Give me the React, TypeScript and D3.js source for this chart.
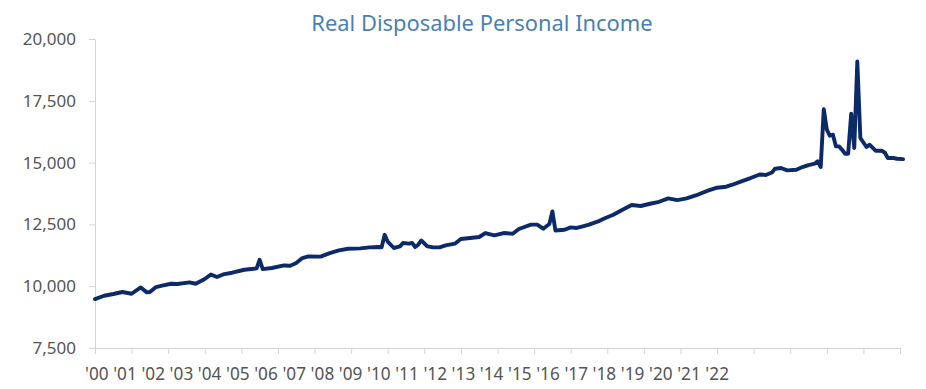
import React, { useEffect, useRef } from 'react';
import * as d3 from 'd3';

// Months (YYYY-MM) and Real Disposable Personal Income
const months = [
  '2000-01', '2000-04', '2000-07', '2000-10', '2001-01', '2001-04', '2001-06', '2001-07',
  '2001-09', '2001-11', '2002-02', '2002-04', '2002-08', '2002-10', '2003-01', '2003-03',
  '2003-05', '2003-07', '2003-10', '2004-02', '2004-06', '2004-07', '2004-08', '2004-11',
  '2005-03', '2005-05', '2005-07', '2005-09', '2005-11', '2006-03', '2006-06', '2006-09',
  '2006-12', '2007-04', '2007-07', '2007-10', '2007-11', '2007-12', '2008-01', '2008-03',
  '2008-05', '2008-06', '2008-08', '2008-09', '2008-10', '2008-11', '2008-12', '2009-02',
  '2009-04', '2009-06', '2009-08', '2009-11', '2010-01', '2010-04', '2010-07', '2010-09',
  '2010-12', '2011-03', '2011-06', '2011-08', '2011-12', '2012-02', '2012-04', '2012-06',
  '2012-07', '2012-08', '2012-11', '2013-01', '2013-03', '2013-05', '2013-07', '2013-10',
  '2013-12', '2014-03', '2014-06', '2014-09', '2014-12', '2015-03', '2015-06', '2015-09',
  '2015-12', '2016-03', '2016-06', '2016-10', '2017-01', '2017-04', '2017-06', '2017-09',
  '2017-12', '2018-03', '2018-05', '2018-07', '2018-08', '2018-10', '2018-12', '2019-03',
  '2019-05', '2019-07', '2019-09', '2019-10', '2019-11', '2019-12', '2020-01', '2020-02',
  '2020-03', '2020-04', '2020-05', '2020-06', '2020-07', '2020-08', '2020-09', '2020-10',
  '2020-11', '2020-12', '2021-02', '2021-03', '2021-05', '2021-07', '2021-08', '2021-09',
  '2021-11', '2021-12', '2022-02',
];

const income = [
  9480, 9615, 9685, 9765, 9695, 9950, 9750, 9765,
  9965, 10020, 10100, 10090, 10155, 10100, 10290, 10475,
  10370, 10475, 10545, 10665, 10720, 11070, 10690, 10735,
  10840, 10830, 10940, 11140, 11205, 11195, 11340, 11450,
  11515, 11530, 11570, 11585, 11575, 12080, 11800, 11545,
  11610, 11750, 11720, 11750, 11585, 11680, 11850, 11610,
  11570, 11570, 11650, 11720, 11910, 11950, 11990, 12150,
  12055, 12150, 12120, 12315, 12490, 12490, 12325, 12515,
  13025, 12255, 12285, 12380, 12355, 12420, 12490, 12620,
  12740, 12890, 13095, 13285, 13245, 13335, 13415, 13550,
  13485, 13550, 13670, 13865, 13985, 14025, 14105, 14240,
  14375, 14520, 14500, 14600, 14750, 14780, 14685, 14710,
  14820, 14900, 14955, 15050, 14820, 17165, 16330, 16085,
  16130, 15655, 15655, 15520, 15360, 15360, 16980, 15590,
  19090, 15995, 15630, 15725, 15480, 15480, 15410, 15185,
  15185, 15155, 15140,
];

const yTicks = [7500, 10000, 12500, 15000, 17500, 20000];

const yearLabels = [
  "'00", "'01", "'02", "'03", "'04", "'05", "'06", "'07", "'08", "'09", "'10", "'11",
  "'12", "'13", "'14", "'15", "'16", "'17", "'18", "'19", "'20", "'21", "'22",
];

const TITLE = 'Real Disposable Personal Income';

const monthIndex = (s: string) => {
  const [yy, mm] = s.split('-').map(Number);
  return (yy - 2000) * 12 + (mm - 1);
};

const App = () => {
  const svgRef = useRef<SVGSVGElement>(null);

  useEffect(() => {
    const width = 926;
    const height = 389;
    const margin = { top: 39, right: 26, bottom: 41, left: 95 };
    const font = '"Noto Sans", sans-serif';
    const labelColor = '#555555';
    const axisColor = '#d4d4d4';

    const svg = d3.select(svgRef.current);
    svg.selectAll('*').remove();
    svg.attr('width', width).attr('height', height);

    const data = months.map((m, i) => ({ m: monthIndex(m), v: income[i] }));

    // one tick per year, 22 intervals across the plot
    const x = d3.scaleLinear()
      .domain([0, 22 * 12])
      .range([margin.left, width - margin.right]);

    const y = d3.scaleLinear()
      .domain([d3.min(yTicks)!, d3.max(yTicks)!])
      .range([height - margin.bottom, margin.top]);

    // Título
    svg.append('text')
      .attr('x', 482)
      .attr('y', 31)
      .attr('text-anchor', 'middle')
      .style('font-family', font)
      .style('font-size', '21.9px')
      .style('fill', '#4a7fb1')
      .text(TITLE);

    // Eje Y
    const yAxis = svg.append('g')
      .attr('transform', `translate(${margin.left},0)`)
      .call(d3.axisLeft(y)
        .tickValues(yTicks)
        .tickFormat(d3.format(','))
        .tickSize(6)
        .tickSizeOuter(0)
        .tickPadding(13));
    yAxis.select('.domain').attr('stroke', axisColor);
    yAxis.selectAll('.tick line').attr('stroke', axisColor);
    yAxis.selectAll('.tick text')
      .style('font-family', font)
      .style('font-size', '17px')
      .style('fill', labelColor);

    // Eje X (marcas sin texto)
    const xAxis = svg.append('g')
      .attr('transform', `translate(0,${height - margin.bottom})`)
      .call(d3.axisBottom(x)
        .tickValues(d3.range(0, 22 * 12 + 1, 12))
        .tickFormat(() => '')
        .tickSize(6)
        .tickSizeOuter(0));
    xAxis.select('.domain').attr('stroke', axisColor);
    xAxis.selectAll('.tick line').attr('stroke', axisColor);

    // Etiquetas de año, escritas seguidas como en el original
    svg.append('text')
      .attr('x', 85)
      .attr('y', 380)
      .attr('xml:space', 'preserve')
      .style('font-family', font)
      .style('font-size', '17.2px')
      .style('letter-spacing', '0.05px')
      .style('fill', labelColor)
      .text(yearLabels.join(' '));

    // Línea
    const line = d3.line<{ m: number; v: number }>()
      .x(d => x(d.m))
      .y(d => y(d.v));

    svg.append('path')
      .datum(data)
      .attr('d', line)
      .attr('fill', 'none')
      .attr('stroke', '#0c2a68')
      .attr('stroke-width', 3.9)
      .attr('stroke-linejoin', 'round')
      .attr('stroke-linecap', 'round');
  }, []);

  return (
    <div>
      <style>{'body{margin:0}'}</style>
      <svg ref={svgRef} style={{ display: 'block' }}></svg>
    </div>
  );
};

export default App;
